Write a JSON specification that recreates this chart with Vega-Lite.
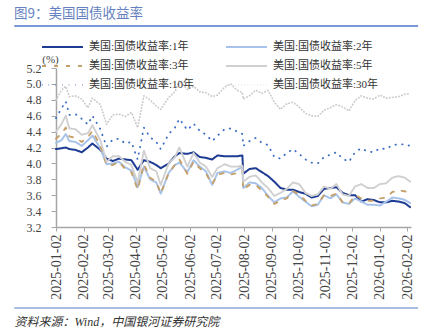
{
 "$schema": "https://vega.github.io/schema/vega-lite/v6.json",
 "padding": {"left": 14, "top": 6, "right": 6, "bottom": 6},
 "width": 355,
 "height": 159,
 "background": "white",
 "title": {"text": "图9：美国国债收益率", "anchor": "start", "frame": "group", "dx": -42, "offset": 5, "font": "Noto Sans CJK SC", "fontSize": 13.5, "fontWeight": "normal", "color": "#6581c0"},
 "config": {"view": {"stroke": null}, "axis": {"grid": false}},
 "datasets": {
  "ust": [
   {"d":"2025-01-02","y1":4.18,"y2":4.26,"y3":4.31,"y5":4.40,"y10":4.57,"y30":4.80},
   {"d":"2025-01-08","y1":4.19,"y2":4.29,"y3":4.37,"y5":4.49,"y10":4.69,"y30":4.92},
   {"d":"2025-01-13","y1":4.20,"y2":4.37,"y3":4.45,"y5":4.60,"y10":4.78,"y30":4.97},
   {"d":"2025-01-17","y1":4.18,"y2":4.28,"y3":4.34,"y5":4.44,"y10":4.61,"y30":4.84},
   {"d":"2025-01-24","y1":4.17,"y2":4.27,"y3":4.32,"y5":4.43,"y10":4.62,"y30":4.85},
   {"d":"2025-01-31","y1":4.14,"y2":4.22,"y3":4.27,"y5":4.36,"y10":4.56,"y30":4.81},
   {"d":"2025-02-07","y1":4.20,"y2":4.29,"y3":4.33,"y5":4.38,"y10":4.49,"y30":4.70},
   {"d":"2025-02-12","y1":4.25,"y2":4.35,"y3":4.41,"y5":4.48,"y10":4.60,"y30":4.82},
   {"d":"2025-02-21","y1":4.17,"y2":4.19,"y3":4.22,"y5":4.29,"y10":4.43,"y30":4.74},
   {"d":"2025-02-28","y1":4.06,"y2":3.99,"y3":3.98,"y5":4.02,"y10":4.21,"y30":4.49},
   {"d":"2025-03-07","y1":4.03,"y2":4.00,"y3":3.98,"y5":4.09,"y10":4.30,"y30":4.61},
   {"d":"2025-03-14","y1":4.06,"y2":4.02,"y3":4.02,"y5":4.09,"y10":4.31,"y30":4.62},
   {"d":"2025-03-21","y1":4.05,"y2":3.95,"y3":3.93,"y5":4.02,"y10":4.25,"y30":4.59},
   {"d":"2025-03-28","y1":4.04,"y2":3.91,"y3":3.89,"y5":3.98,"y10":4.27,"y30":4.64},
   {"d":"2025-04-04","y1":3.92,"y2":3.70,"y3":3.67,"y5":3.76,"y10":4.05,"y30":4.45},
   {"d":"2025-04-11","y1":4.04,"y2":3.96,"y3":3.99,"y5":4.16,"y10":4.45,"y30":4.85},
   {"d":"2025-04-18","y1":4.02,"y2":3.80,"y3":3.82,"y5":3.94,"y10":4.33,"y30":4.80},
   {"d":"2025-04-25","y1":3.98,"y2":3.76,"y3":3.77,"y5":3.90,"y10":4.27,"y30":4.72},
   {"d":"2025-04-30","y1":3.94,"y2":3.62,"y3":3.62,"y5":3.73,"y10":4.18,"y30":4.68},
   {"d":"2025-05-09","y1":4.00,"y2":3.88,"y3":3.88,"y5":4.00,"y10":4.37,"y30":4.83},
   {"d":"2025-05-16","y1":4.09,"y2":3.98,"y3":3.98,"y5":4.08,"y10":4.45,"y30":4.90},
   {"d":"2025-05-21","y1":4.13,"y2":4.01,"y3":4.05,"y5":4.20,"y10":4.56,"y30":5.04},
   {"d":"2025-05-30","y1":4.12,"y2":3.89,"y3":3.87,"y5":3.96,"y10":4.42,"y30":4.93},
   {"d":"2025-06-06","y1":4.14,"y2":4.04,"y3":4.02,"y5":4.13,"y10":4.50,"y30":4.97},
   {"d":"2025-06-13","y1":4.08,"y2":3.96,"y3":3.94,"y5":4.01,"y10":4.41,"y30":4.90},
   {"d":"2025-06-20","y1":4.07,"y2":3.90,"y3":3.87,"y5":3.96,"y10":4.36,"y30":4.89},
   {"d":"2025-06-27","y1":4.05,"y2":3.73,"y3":3.74,"y5":3.83,"y10":4.28,"y30":4.84},
   {"d":"2025-07-03","y1":4.10,"y2":3.88,"y3":3.86,"y5":3.94,"y10":4.35,"y30":4.86},
   {"d":"2025-07-11","y1":4.09,"y2":3.90,"y3":3.88,"y5":3.99,"y10":4.43,"y30":4.96},
   {"d":"2025-07-18","y1":4.09,"y2":3.88,"y3":3.86,"y5":3.96,"y10":4.44,"y30":5.00},
   {"d":"2025-07-25","y1":4.09,"y2":3.92,"y3":3.88,"y5":3.96,"y10":4.40,"y30":4.92},
   {"d":"2025-07-31","y1":4.10,"y2":3.96,"y3":3.92,"y5":3.97,"y10":4.37,"y30":4.89},
   {"d":"2025-08-01","y1":3.87,"y2":3.69,"y3":3.67,"y5":3.77,"y10":4.22,"y30":4.81},
   {"d":"2025-08-08","y1":3.93,"y2":3.76,"y3":3.73,"y5":3.83,"y10":4.28,"y30":4.85},
   {"d":"2025-08-15","y1":3.94,"y2":3.75,"y3":3.73,"y5":3.85,"y10":4.32,"y30":4.92},
   {"d":"2025-08-22","y1":3.89,"y2":3.69,"y3":3.66,"y5":3.76,"y10":4.26,"y30":4.88},
   {"d":"2025-08-29","y1":3.84,"y2":3.59,"y3":3.58,"y5":3.69,"y10":4.23,"y30":4.92},
   {"d":"2025-09-05","y1":3.77,"y2":3.51,"y3":3.49,"y5":3.59,"y10":4.08,"y30":4.77},
   {"d":"2025-09-12","y1":3.69,"y2":3.56,"y3":3.53,"y5":3.63,"y10":4.06,"y30":4.68},
   {"d":"2025-09-19","y1":3.67,"y2":3.57,"y3":3.56,"y5":3.68,"y10":4.13,"y30":4.75},
   {"d":"2025-09-26","y1":3.67,"y2":3.65,"y3":3.65,"y5":3.76,"y10":4.18,"y30":4.77},
   {"d":"2025-10-03","y1":3.64,"y2":3.58,"y3":3.61,"y5":3.74,"y10":4.12,"y30":4.71},
   {"d":"2025-10-10","y1":3.62,"y2":3.52,"y3":3.53,"y5":3.63,"y10":4.05,"y30":4.63},
   {"d":"2025-10-17","y1":3.57,"y2":3.46,"y3":3.47,"y5":3.59,"y10":4.01,"y30":4.60},
   {"d":"2025-10-24","y1":3.59,"y2":3.48,"y3":3.49,"y5":3.61,"y10":4.00,"y30":4.59},
   {"d":"2025-10-31","y1":3.68,"y2":3.60,"y3":3.60,"y5":3.71,"y10":4.08,"y30":4.67},
   {"d":"2025-11-07","y1":3.69,"y2":3.56,"y3":3.59,"y5":3.68,"y10":4.11,"y30":4.70},
   {"d":"2025-11-14","y1":3.70,"y2":3.61,"y3":3.62,"y5":3.74,"y10":4.14,"y30":4.74},
   {"d":"2025-11-21","y1":3.63,"y2":3.51,"y3":3.51,"y5":3.61,"y10":4.06,"y30":4.71},
   {"d":"2025-11-28","y1":3.60,"y2":3.49,"y3":3.49,"y5":3.59,"y10":4.02,"y30":4.66},
   {"d":"2025-12-05","y1":3.60,"y2":3.56,"y3":3.60,"y5":3.71,"y10":4.14,"y30":4.79},
   {"d":"2025-12-12","y1":3.52,"y2":3.52,"y3":3.56,"y5":3.74,"y10":4.19,"y30":4.85},
   {"d":"2025-12-19","y1":3.55,"y2":3.48,"y3":3.53,"y5":3.69,"y10":4.15,"y30":4.82},
   {"d":"2025-12-26","y1":3.54,"y2":3.48,"y3":3.53,"y5":3.69,"y10":4.14,"y30":4.81},
   {"d":"2026-01-02","y1":3.51,"y2":3.47,"y3":3.56,"y5":3.74,"y10":4.19,"y30":4.86},
   {"d":"2026-01-09","y1":3.51,"y2":3.52,"y3":3.57,"y5":3.75,"y10":4.18,"y30":4.82},
   {"d":"2026-01-16","y1":3.53,"y2":3.57,"y3":3.64,"y5":3.82,"y10":4.23,"y30":4.83},
   {"d":"2026-01-23","y1":3.52,"y2":3.56,"y3":3.66,"y5":3.84,"y10":4.24,"y30":4.84},
   {"d":"2026-01-30","y1":3.50,"y2":3.54,"y3":3.65,"y5":3.82,"y10":4.24,"y30":4.87},
   {"d":"2026-02-05","y1":3.45,"y2":3.50,"y3":3.62,"y5":3.77,"y10":4.22,"y30":4.88}
  ]
 },
 "layer": [
  {
   "data": {"values": [{}]},
   "mark": {"type": "rect", "color": "#4e76c4", "clip": false},
   "encoding": {
    "x": {"datum": {"year": 2024, "month": 11, "date": 16, "utc": true}, "type": "temporal", "axis": null},
    "x2": {"datum": {"year": 2026, "month": 2, "date": 14, "utc": true}},
    "y": {"datum": 5.7375, "type": "quantitative", "axis": null},
    "y2": {"datum": 5.7185}
   }
  },
  {
   "data": {"values": [{}]},
   "mark": {"type": "rect", "color": "#a9bce2", "clip": false},
   "encoding": {
    "x": {"datum": {"year": 2024, "month": 11, "date": 16, "utc": true}, "type": "temporal", "axis": null},
    "x2": {"datum": {"year": 2026, "month": 2, "date": 14, "utc": true}},
    "y": {"datum": 2.1936, "type": "quantitative", "axis": null},
    "y2": {"datum": 2.1684}
   }
  },
  {
   "data": {"name": "ust"},
   "transform": [{"fold": ["y1", "y2", "y3", "y5", "y10", "y30"], "as": ["s", "v"]}],
   "mark": {"type": "line", "strokeCap": "round", "strokeJoin": "round"},
   "encoding": {
    "x": {
     "field": "d", "type": "temporal",
     "scale": {"type": "utc", "domain": [{"year": 2025, "month": 1, "date": 2, "utc": true}, {"year": 2026, "month": 2, "date": 6, "utc": true}]},
     "axis": {
      "values": [
       {"year": 2025, "month": 1, "date": 2, "utc": true},
       {"year": 2025, "month": 2, "date": 2, "utc": true},
       {"year": 2025, "month": 3, "date": 2, "utc": true},
       {"year": 2025, "month": 4, "date": 2, "utc": true},
       {"year": 2025, "month": 5, "date": 2, "utc": true},
       {"year": 2025, "month": 6, "date": 2, "utc": true},
       {"year": 2025, "month": 7, "date": 2, "utc": true},
       {"year": 2025, "month": 8, "date": 2, "utc": true},
       {"year": 2025, "month": 9, "date": 2, "utc": true},
       {"year": 2025, "month": 10, "date": 2, "utc": true},
       {"year": 2025, "month": 11, "date": 2, "utc": true},
       {"year": 2025, "month": 12, "date": 2, "utc": true},
       {"year": 2026, "month": 1, "date": 2, "utc": true},
       {"year": 2026, "month": 2, "date": 2, "utc": true}
      ],
      "format": "%Y-%m-%d",
      "labelAngle": -90,
      "labelFont": "Liberation Serif",
      "labelFontSize": 14,
      "labelColor": "#444444",
      "labelPadding": 3,
      "labelOverlap": false,
      "tickSize": 4,
      "tickColor": "#a6a6a6",
      "domainColor": "#a6a6a6",
      "domainWidth": 1.5,
      "title": "资料来源：Wind，中国银河证券研究院",
      "titleX": -42,
      "titleY": 89,
      "titleAlign": "left",
      "titleAnchor": "start",
      "titleBaseline": "top",
      "titleFont": "Liberation Serif, Noto Sans CJK SC",
      "titleFontSize": 12,
      "titleFontStyle": "italic",
      "titleFontWeight": "normal",
      "titleColor": "#333333"
     }
    },
    "y": {
     "field": "v", "type": "quantitative",
     "scale": {"domain": [3.2, 5.2], "nice": false, "zero": false},
     "axis": {
      "values": [3.2, 3.4, 3.6, 3.8, 4.0, 4.2, 4.4, 4.6, 4.8, 5.0, 5.2],
      "format": ".1f",
      "labelOverlap": false,
      "labelFont": "Liberation Serif",
      "labelFontSize": 12,
      "labelColor": "#444444",
      "labelPadding": 10,
      "tickSize": 5,
      "tickColor": "#a6a6a6",
      "domainColor": "#a6a6a6",
      "domainWidth": 1.5,
      "title": "(%)",
      "titleAngle": 0,
      "titleX": -6,
      "titleY": -9,
      "titleAlign": "center",
      "titleBaseline": "middle",
      "titleFont": "Liberation Serif",
      "titleFontSize": 11,
      "titleFontWeight": "normal",
      "titleColor": "#444444"
     }
    },
    "color": {
     "field": "s", "type": "nominal",
     "scale": {"domain": ["y1", "y2", "y3", "y5", "y10", "y30"], "range": ["#1f3c94", "#a7c3ea", "#c6a06a", "#d0d0d0", "#3b6cc4", "#cbcbcb"]},
     "legend": {
      "orient": "none",
      "legendX": -15,
      "legendY": -26.5,
      "direction": "horizontal",
      "columns": 2,
      "columnPadding": 30,
      "rowPadding": 7,
      "clipHeight": 11,
      "padding": 0,
      "symbolType": "stroke",
      "symbolSize": 1681,
      "labelFont": "Liberation Serif, Noto Sans CJK SC",
      "labelFontSize": 11,
      "labelColor": "#333333",
      "labelOffset": 5,
      "labelLimit": 200,
      "title": null,
      "labelExpr": "'美国:国债收益率:' + slice(datum.label, 1) + '年'"
     }
    },
    "strokeDash": {
     "field": "s", "type": "nominal",
     "scale": {"domain": ["y1", "y2", "y3", "y5", "y10", "y30"], "range": [[1, 0], [1, 0], [4, 8], [1, 0], [0.4, 6.3], [0.3, 2.8]]}
    },
    "strokeWidth": {
     "field": "s", "type": "ordinal",
     "scale": {"domain": ["y1", "y2", "y3", "y5", "y10", "y30"], "range": [2, 1.8, 2, 2, 3.6, 1.1]}
    }
   }
  }
 ],
 "resolve": {"axis": {"x": "independent", "y": "independent"}}
}
